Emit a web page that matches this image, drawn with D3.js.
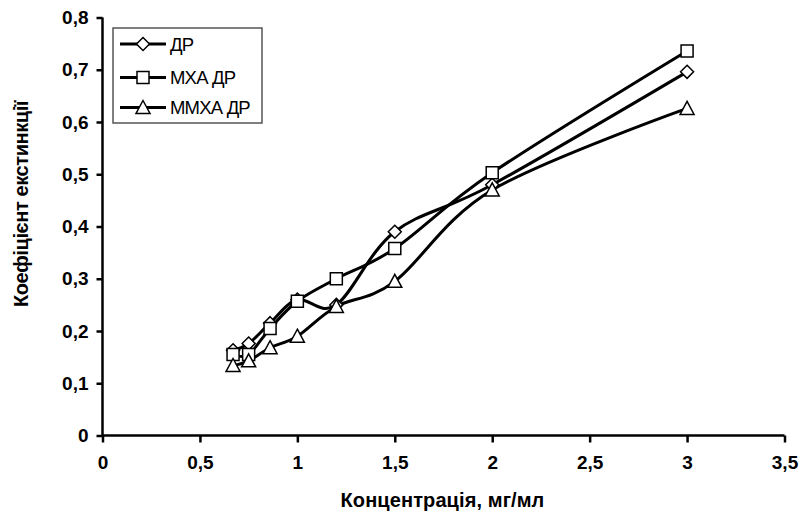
<!DOCTYPE html>
<html>
<head>
<meta charset="utf-8">
<script src="https://cdn.jsdelivr.net/npm/d3@7"></script>
<style>
  body { margin: 0; background: #fff; }
  text { font-family: "Liberation Sans", Arial, sans-serif; fill: #000; }
</style>
</head>
<body>
<div id="chart"></div>
<script>
// Data
let concentration = [0.67, 0.75, 0.86, 1.0, 1.2, 1.5, 2.0, 3.0];
let dr = [0.163, 0.176, 0.215, 0.26, 0.25, 0.39, 0.48, 0.696];
let mxaDr = [0.155, 0.155, 0.205, 0.257, 0.30, 0.358, 0.503, 0.736];
let mmxaDr = [0.134, 0.143, 0.168, 0.19, 0.247, 0.295, 0.47, 0.626];
let seriesNames = ["ДР", "МХА ДР", "ММХА ДР"];
let markerTypes = ["diamond", "square", "triangle"];
let xTicks = [0, 0.5, 1, 1.5, 2, 2.5, 3, 3.5];
let yTicks = [0, 0.1, 0.2, 0.3, 0.4, 0.5, 0.6, 0.7, 0.8];

let svgWidth = 805;
let svgHeight = 518;
let margin = { top: 17.5, right: 20.5, bottom: 82.5, left: 102.5 };
let width = svgWidth - margin.left - margin.right;
let height = svgHeight - margin.top - margin.bottom;

let svg = d3.select("#chart")
  .append("svg")
  .attr("width", svgWidth)
  .attr("height", svgHeight);

let chartGroup = svg.append("g")
  .attr("transform", `translate(${margin.left}, ${margin.top})`);

let x = d3.scaleLinear().domain([0, 3.5]).range([0, width]);
let y = d3.scaleLinear().domain([0, 0.8]).range([height, 0]);

let fmt = d => String(d).replace(".", ",");

// x axis
let xAxis = chartGroup.append("g")
  .attr("transform", `translate(0, ${height})`)
  .call(d3.axisBottom(x).tickValues(xTicks).tickSize(7).tickPadding(13).tickFormat(fmt));

// y axis
let yAxis = chartGroup.append("g")
  .call(d3.axisLeft(y).tickValues(yTicks).tickSize(6).tickPadding(8).tickFormat(fmt));

[xAxis, yAxis].forEach(a => {
  a.select(".domain").attr("stroke", "#000").attr("stroke-width", 2.5);
  a.selectAll(".tick line").attr("stroke", "#000").attr("stroke-width", 2.5);
  a.selectAll(".tick text")
    .style("font-family", "'Liberation Sans', Arial, sans-serif")
    .style("font-size", "19px")
    .style("font-weight", "bold")
    .attr("fill", "#000");
});
xAxis.select(".domain").attr("d", `M0,0H${width}`);
yAxis.select(".domain").attr("d", `M0,${height}V0`);

// series
let seriesData = [dr, mxaDr, mmxaDr].map((vals, i) => ({
  name: seriesNames[i],
  marker: markerTypes[i],
  values: concentration.map((c, j) => ({ x: c, y: vals[j] }))
}));

let line = d3.line()
  .x(d => x(d.x))
  .y(d => y(d.y))
  .curve(d3.curveCardinal.tension(0));

function markerPath(type) {
  if (type === "diamond") return "M0,-6.5L6.5,0L0,6.5L-6.5,0Z";
  if (type === "square") return "M-6,-6H6V6H-6Z";
  return "M0,-7L7,6H-7Z";
}

chartGroup.selectAll(".series-line")
  .data(seriesData)
  .enter()
  .append("path")
  .attr("class", "series-line")
  .attr("d", d => line(d.values))
  .attr("fill", "none")
  .attr("stroke", "#000")
  .attr("stroke-width", 3);

seriesData.forEach(s => {
  chartGroup.selectAll(null)
    .data(s.values)
    .enter()
    .append("path")
    .attr("d", markerPath(s.marker))
    .attr("transform", d => `translate(${x(d.x)}, ${y(d.y)})`)
    .attr("fill", "#fff")
    .attr("stroke", "#000")
    .attr("stroke-width", 1.5);
});

// legend
let legend = svg.append("g").attr("transform", "translate(113, 28)");
legend.append("rect")
  .attr("width", 149)
  .attr("height", 95)
  .attr("fill", "#fff")
  .attr("stroke", "#555")
  .attr("stroke-width", 1.5);

let legendRows = [16, 49.5, 79.5];
seriesData.forEach((s, i) => {
  let row = legend.append("g").attr("transform", `translate(0, ${legendRows[i]})`);
  row.append("line")
    .attr("x1", 7).attr("x2", 53)
    .attr("stroke", "#000").attr("stroke-width", 3);
  row.append("path")
    .attr("d", markerPath(s.marker))
    .attr("transform", "translate(30, 0)")
    .attr("fill", "#fff")
    .attr("stroke", "#000")
    .attr("stroke-width", 1.5);
  row.append("text")
    .attr("x", 57)
    .attr("y", 0)
    .attr("dy", "0.36em")
    .style("font-size", "18.5px")
    .style("letter-spacing", "-0.8px")
    .text(s.name);
});

// axis titles
svg.append("text")
  .attr("x", margin.left + width / 2 - 1)
  .attr("y", 507)
  .attr("text-anchor", "middle")
  .style("font-size", "20px")
  .style("font-weight", "bold")
  .style("letter-spacing", "0.1px")
  .text("Концентрація, мг/мл");

svg.append("text")
  .attr("transform", "translate(28, 204) rotate(-90)")
  .attr("text-anchor", "middle")
  .style("font-size", "20px")
  .style("font-weight", "bold")
  .style("letter-spacing", "-0.4px")
  .text("Коефіцієнт екстинкції");
</script>
</body>
</html>
